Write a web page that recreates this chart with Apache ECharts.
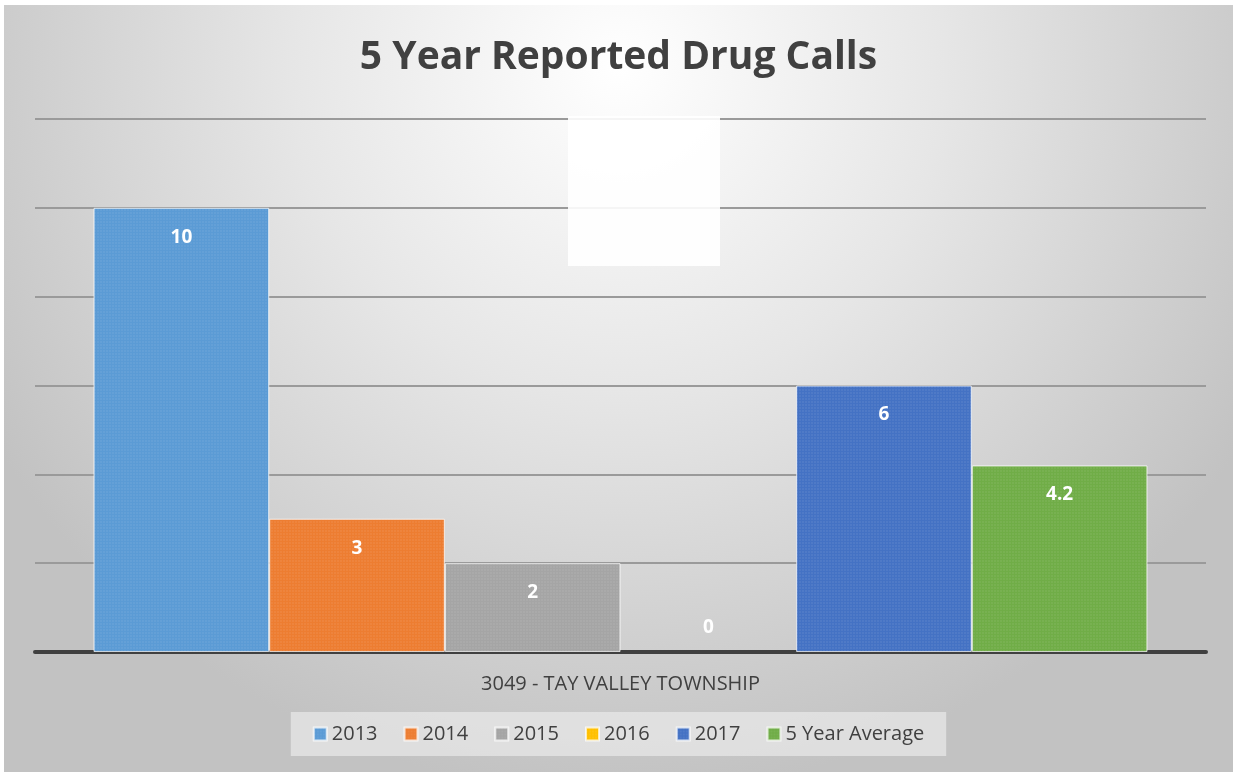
<!DOCTYPE html>
<html>
<head>
<meta charset="utf-8">
<title>5 Year Reported Drug Calls</title>
<script src="https://cdn.jsdelivr.net/npm/echarts@6/dist/echarts.min.js"></script>
<style>
	html, body {
		margin: 0;
		padding: 0;
		background: #fff;
	}
	#chart {
		position: absolute;
		left: 4px;
		top: 5px;
		width: 1229px;
		height: 767px;
	}
</style>
</head>
<body>
<div id="chart"></div>
<script>
// data
const categories = ["3049 - TAY VALLEY TOWNSHIP"];
const seriesNames = ["2013", "2014", "2015", "2016", "2017", "5 Year Average"];
const seriesValues = [[10], [3], [2], [0], [6], [4.2]];
const seriesColors = ["#5b9bd5", "#ed7d31", "#a5a5a5", "#ffc000", "#4472c4", "#70ad47"];

const font = "'Open Sans', 'Noto Sans', sans-serif";

const texture = {
	symbol: "rect",
	symbolSize: 0.6,
	color: "rgba(255,255,255,0.2)",
	dashArrayX: [2, 1],
	dashArrayY: [2, 1],
	rotation: 0,
};

const series = seriesNames.map((name, i) => ({
	type: "bar",
	name: name,
	barGap: "0%",
	barCategoryGap: "10%",
	itemStyle: {
		color: seriesColors[i],
		borderColor: "rgba(255,255,255,0.45)",
		borderWidth: 1,
		decal: texture,
	},
	label: {
		show: true,
		position: "insideTop",
		distance: 20,
		color: "#fff",
		fontFamily: font,
		fontWeight: "bold",
		fontSize: 19,
	},
	// a zero bar has no body in the reference, only its label above the axis
	data: seriesValues[i].map(v =>
		v === 0
			? { value: v, itemStyle: { borderWidth: 0 }, label: { position: "top", distance: 15 } }
			: v
	),
}));

const option = {
	backgroundColor: {
		type: "radial",
		x: 0.5,
		y: 0.08,
		r: 0.95,
		colorStops: [
			{ offset: 0, color: "#ffffff" },
			{ offset: 0.45, color: "#e6e6e6" },
			{ offset: 1, color: "#c2c2c2" },
		],
	},
	title: {
		text: "5 Year Reported Drug Calls",
		left: "center",
		top: 28,
		textStyle: {
			fontFamily: font,
			fontWeight: "bold",
			fontSize: 39,
			color: "#404040",
		},
	},
	legend: {
		left: "center",
		top: 707,
		icon: "rect",
		itemWidth: 13,
		itemHeight: 13,
		itemGap: 26,
		padding: [12, 22],
		backgroundColor: "rgba(240,240,240,0.6)",
		textStyle: {
			fontFamily: font,
			fontSize: 20,
			color: "#404040",
		},
		data: seriesNames,
	},
	grid: {
		left: 31,
		right: 27,
		top: 114,
		bottom: 120,
	},
	xAxis: {
		type: "category",
		data: categories,
		axisLine: { lineStyle: { color: "#404040", width: 4 } },
		axisTick: { show: false },
		axisLabel: {
			margin: 22,
			fontFamily: font,
			fontSize: 20,
			color: "#404040",
		},
	},
	yAxis: {
		type: "value",
		min: 0,
		max: 12,
		interval: 2,
		axisLabel: { show: false },
		axisLine: { show: false },
		axisTick: { show: false },
		splitLine: { lineStyle: { color: "#9a9a9a", width: 2 } },
	},
	graphic: [
		{
			type: "rect",
			shape: { x: 564, y: 111, width: 152, height: 150 },
			style: { fill: "#fff", opacity: 0.9 },
			z: 1,
		},
	],
	series: series,
};

const myEcharts = echarts.init(document.getElementById("chart"));
myEcharts.setOption(option);
</script>
</body>
</html>
